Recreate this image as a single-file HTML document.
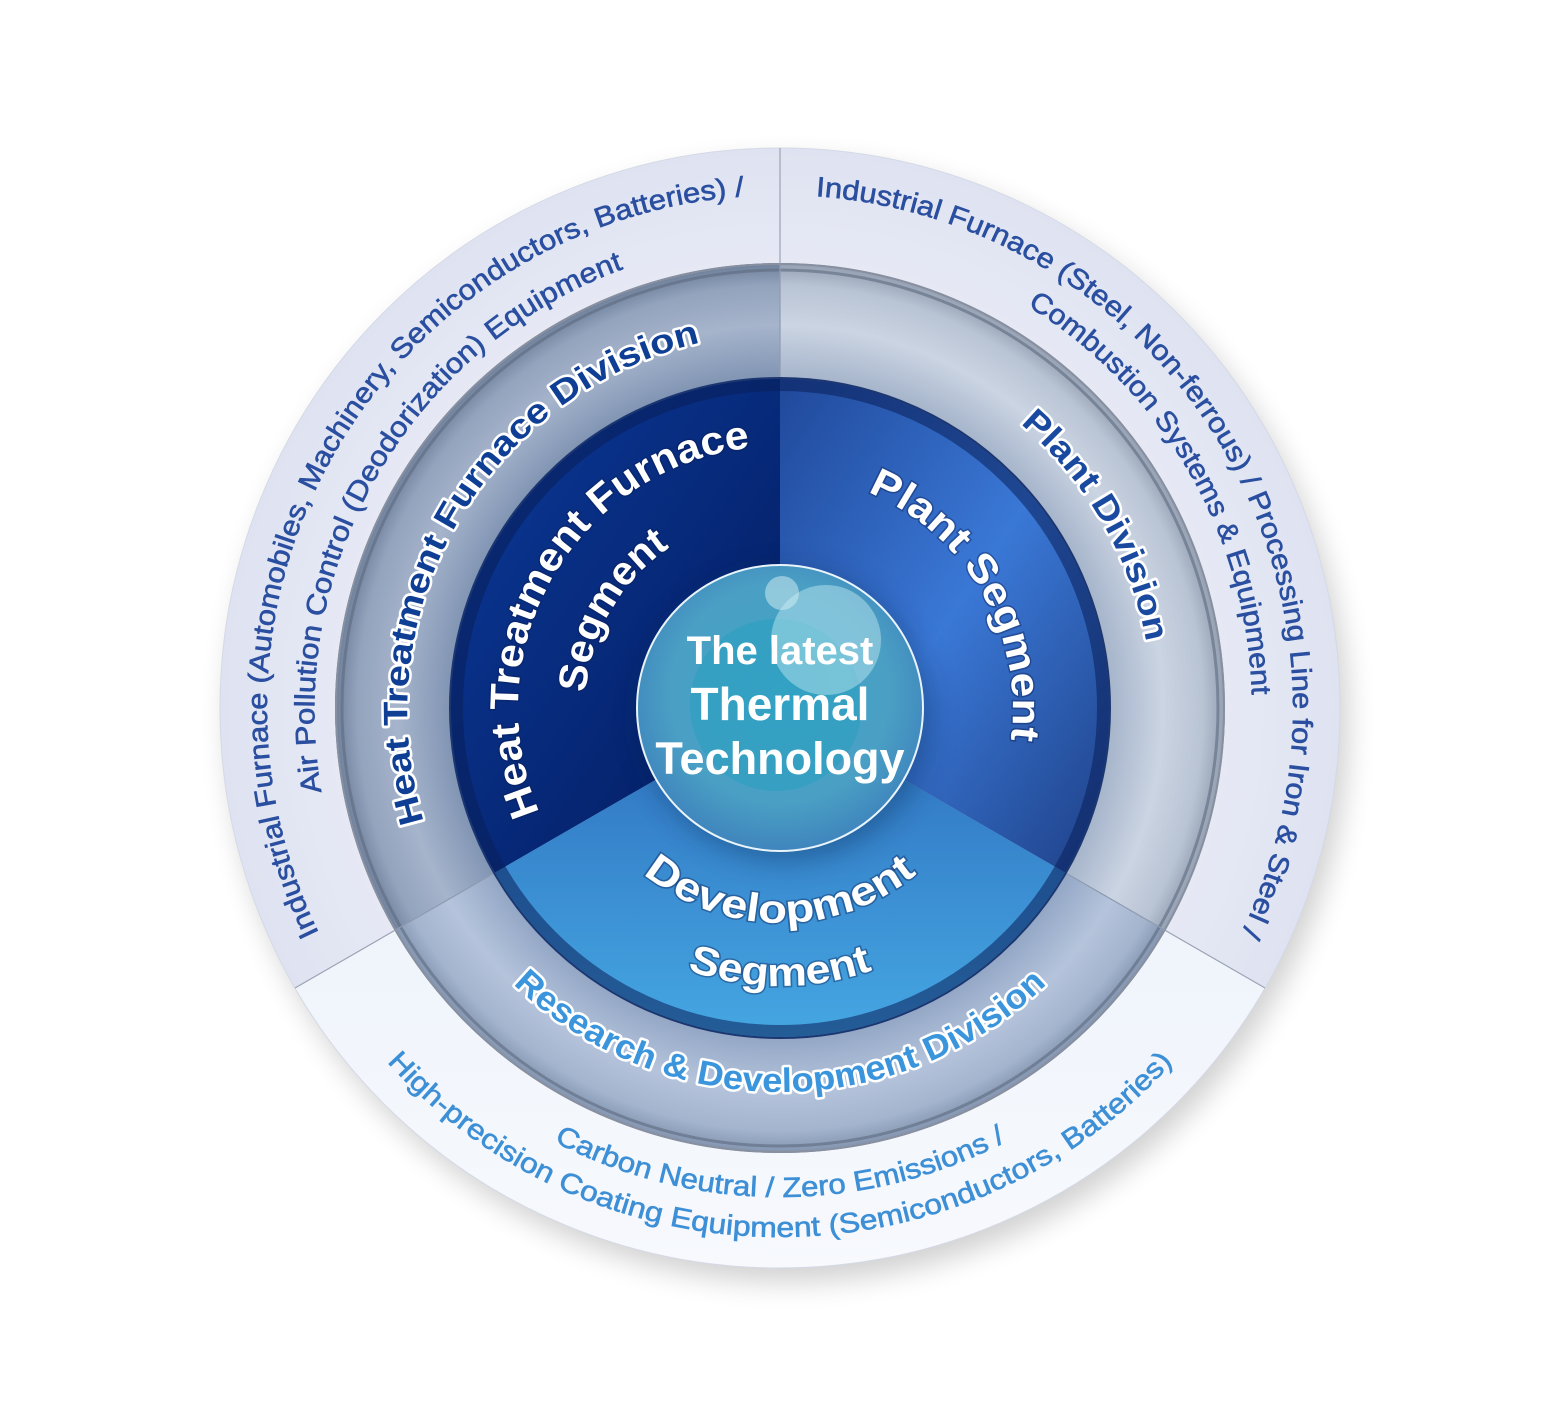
<!DOCTYPE html>
<html><head><meta charset="utf-8"><style>
html,body{margin:0;padding:0;background:#fff;}
svg{display:block;}
text{font-family:"Liberation Sans",sans-serif;}
</style></head><body>
<svg width="1565" height="1417" viewBox="0 0 1565 1417" xmlns="http://www.w3.org/2000/svg">
<defs>
<filter id="sh" x="-20%" y="-20%" width="140%" height="140%"><feGaussianBlur stdDeviation="14"/></filter>
<radialGradient id="gOut" cx="780" cy="708" r="560" gradientUnits="userSpaceOnUse"><stop offset="0.6" stop-color="#eceef8"/><stop offset="1" stop-color="#dfe3f1"/></radialGradient>
<linearGradient id="gOutB" x1="0" y1="0" x2="0" y2="1"><stop offset="0" stop-color="#eaf1fa"/><stop offset="1" stop-color="#f7f9fd"/></linearGradient>
<radialGradient id="gMid" cx="780" cy="708" r="445" gradientUnits="userSpaceOnUse"><stop offset="0.74" stop-color="#8a9cb8"/><stop offset="0.86" stop-color="#c3cddd"/><stop offset="0.95" stop-color="#a7b3c6"/><stop offset="1" stop-color="#6f7d93"/></radialGradient>
<linearGradient id="gTL" x1="0" y1="0" x2="1" y2="1"><stop offset="0" stop-color="#0b3a9a"/><stop offset="1" stop-color="#031a5c"/></linearGradient>
<linearGradient id="gTR" x1="0" y1="0" x2="1" y2="1"><stop offset="0" stop-color="#20489a"/><stop offset="0.5" stop-color="#3a78d6"/><stop offset="1" stop-color="#1e3f86"/></linearGradient>
<linearGradient id="gB" x1="0" y1="0" x2="0" y2="1"><stop offset="0" stop-color="#2e6fbe"/><stop offset="1" stop-color="#45a7e2"/></linearGradient>
<radialGradient id="gBub" cx="0.5" cy="0.45" r="0.55"><stop offset="0" stop-color="#3ea7c8"/><stop offset="0.7" stop-color="#4a9fc4"/><stop offset="1" stop-color="#3f85bd"/></radialGradient>
<path id="ol1" d="M523.5 1152.3 A513 513 0 0 1 1036.5 263.7"/>
<path id="ol2" d="M545 1115 A470 470 0 0 1 1015 301"/>
<path id="or1" d="M523.5 263.7 A513 513 0 0 1 1036.5 1152.3"/>
<path id="or2" d="M544 299.2 A472 472 0 0 1 1016 1116.8"/>
<path id="ob1" d="M291 708 A489 489 0 0 0 1269 708"/>
<path id="ob2" d="M251 708 A529 529 0 0 0 1309 708"/>
<path id="ml" d="M591 1035.3 A378 378 0 0 1 969 380.7"/>
<path id="mr" d="M591 380.7 A378 378 0 0 1 969 1035.3"/>
<path id="mb" d="M396 708 A384 384 0 0 0 1164 708"/>
<path id="il1" d="M649 934.9 A262 262 0 0 1 911 481.1"/>
<path id="il2" d="M682.5 876.9 A195 195 0 0 1 877.5 539.1"/>
<path id="ir" d="M662.5 504.5 A235 235 0 0 1 897.5 911.5"/>
<path id="ib1" d="M565 708 A215 215 0 0 0 995 708"/>
<path id="ib2" d="M502 708 A278 278 0 0 0 1058 708"/>
</defs>
<circle cx="788" cy="722" r="560" fill="#000" opacity="0.18" filter="url(#sh)"/>
<circle cx="780" cy="708" r="560" fill="url(#gOut)"/>
<path d="M780 708 L1265 988 A560 560 0 0 1 295 988 Z" fill="url(#gOutB)"/>
<circle cx="780" cy="708" r="560" fill="none" stroke="#d4d9e6" stroke-width="1"/>
<g stroke="#9aa3b5" stroke-width="1.2"><line x1="780" y1="708" x2="780" y2="148"/><line x1="780" y1="708" x2="1265" y2="988"/><line x1="780" y1="708" x2="295" y2="988"/></g>
<circle cx="780" cy="708" r="445" fill="url(#gMid)"/>
<path d="M780 708 L780 263 A445 445 0 0 0 394.6 930.5 Z" fill="#6f86ab" opacity="0.35"/>
<path d="M780 708 L780 263 A445 445 0 0 1 1165.4 930.5 Z" fill="#dbe2ee" opacity="0.35"/>
<path d="M780 708 L1165.4 930.5 A445 445 0 0 1 394.6 930.5 Z" fill="#9fb6da" opacity="0.4"/>
<circle cx="780" cy="708" r="438" fill="none" stroke="#5e6a7e" stroke-width="3" opacity="0.6"/>
<circle cx="780" cy="708" r="444" fill="none" stroke="#8890a0" stroke-width="2"/>
<g stroke="#8e9ab0" stroke-width="1.2"><line x1="780" y1="263" x2="780" y2="378"/><line x1="1165.4" y1="930.5" x2="1065.8" y2="873"/><line x1="394.6" y1="930.5" x2="494.2" y2="873"/></g>
<path d="M780 708 L780 378 A330 330 0 0 0 494.2 873 Z" fill="url(#gTL)"/>
<path d="M780 708 L780 378 A330 330 0 0 1 1065.8 873 Z" fill="url(#gTR)"/>
<path d="M780 708 L1065.8 873 A330 330 0 0 1 494.2 873 Z" fill="url(#gB)"/>
<circle cx="780" cy="708" r="323" fill="none" stroke="#0a1f5a" stroke-width="12" opacity="0.55"/>
<circle cx="780" cy="708" r="330" fill="none" stroke="#1c3670" stroke-width="2"/>
<circle cx="786" cy="716" r="145" fill="#04204a" opacity="0.35" filter="url(#sh)"/>
<circle cx="780" cy="708" r="143" fill="url(#gBub)" stroke="#e8f4fa" stroke-width="2"/>
<circle cx="776" cy="705" r="86" fill="#2b9ec0" opacity="0.6"/>
<circle cx="826" cy="640" r="55" fill="#c8eef4" opacity="0.45"/>
<circle cx="782" cy="593" r="17" fill="#d8f0f4" opacity="0.5"/>
<g fill="#fff" font-weight="bold" text-anchor="middle">
<text x="780" y="664" font-size="40">The latest</text>
<text x="780" y="720" font-size="46">Thermal</text>
<text x="780" y="774" font-size="45">Technology</text>
</g>
<g font-size="28" fill="#2a4fa0" stroke="#2a4fa0" stroke-width="0.6">
<text><textPath href="#ol1" startOffset="50%" text-anchor="middle" textLength="1003" lengthAdjust="spacingAndGlyphs">Industrial Furnace (Automobiles, Machinery, Semiconductors, Batteries) /</textPath></text>
<text><textPath href="#ol2" startOffset="50%" text-anchor="middle" textLength="656" lengthAdjust="spacingAndGlyphs">Air Pollution Control (Deodorization) Equipment</textPath></text>
<text><textPath href="#or1" startOffset="50%" text-anchor="middle" textLength="1003" lengthAdjust="spacingAndGlyphs">Industrial Furnace (Steel, Non-ferrous) / Processing Line for Iron &amp; Steel /</textPath></text>
<text><textPath href="#or2" startOffset="50%" text-anchor="middle" textLength="468" lengthAdjust="spacingAndGlyphs">Combustion Systems &amp; Equipment</textPath></text>
</g>
<g font-size="28" fill="#3d8fd6" stroke="#3d8fd6" stroke-width="0.6">
<text><textPath href="#ob1" startOffset="50%" text-anchor="middle" textLength="470" lengthAdjust="spacingAndGlyphs">Carbon Neutral / Zero Emissions /</textPath></text>
<text><textPath href="#ob2" startOffset="50%" text-anchor="middle" textLength="886" lengthAdjust="spacingAndGlyphs">High-precision Coating Equipment (Semiconductors, Batteries)</textPath></text>
</g>
<g font-size="34" font-weight="bold" stroke="#fff" stroke-width="5" paint-order="stroke" stroke-linejoin="round">
<text fill="#0f3f95"><textPath href="#ml" startOffset="50%" text-anchor="middle" textLength="620" lengthAdjust="spacingAndGlyphs">Heat Treatment Furnace Division</textPath></text>
<text fill="#1a4aa0"><textPath href="#mr" startOffset="50%" text-anchor="middle" textLength="257" lengthAdjust="spacingAndGlyphs">Plant Division</textPath></text>
<text fill="#3a95dc"><textPath href="#mb" startOffset="50%" text-anchor="middle" textLength="590" lengthAdjust="spacingAndGlyphs">Research &amp; Development Division</textPath></text>
</g>
<g font-size="40" font-weight="bold" fill="#fff" stroke="#0a1f55" stroke-width="3" stroke-opacity="0.4" paint-order="stroke">
<text><textPath href="#il1" startOffset="50%" text-anchor="middle" textLength="489" lengthAdjust="spacingAndGlyphs">Heat Treatment Furnace</textPath></text>
<text><textPath href="#il2" startOffset="50%" text-anchor="middle" textLength="174" lengthAdjust="spacingAndGlyphs">Segment</textPath></text>
<text><textPath href="#ir" startOffset="50%" text-anchor="middle" textLength="308" lengthAdjust="spacingAndGlyphs">Plant Segment</textPath></text>
<text><textPath href="#ib1" startOffset="50%" text-anchor="middle" textLength="297" lengthAdjust="spacingAndGlyphs">Development</textPath></text>
<text><textPath href="#ib2" startOffset="50%" text-anchor="middle" textLength="189" lengthAdjust="spacingAndGlyphs">Segment</textPath></text>
</g>
</svg>
</body></html>
